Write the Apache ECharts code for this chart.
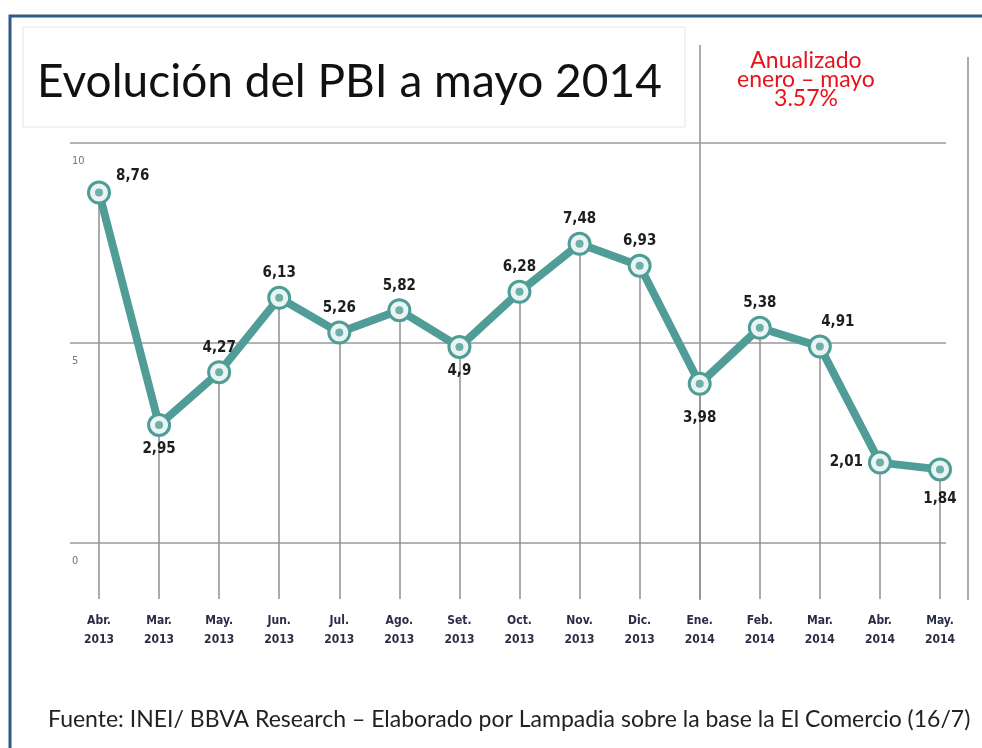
<!DOCTYPE html>
<html>
<head>
<meta charset="utf-8">
<script src="https://cdn.jsdelivr.net/npm/echarts@6/dist/echarts.min.js"></script>
<style>
html,body{margin:0;padding:0;background:#fff;}
#chart{width:982px;height:748px;}
</style>
</head>
<body>
<div id="chart"></div>
<script>
// ---- data ----
const months = ['Abr.','Mar.','May.','Jun.','Jul.','Ago.','Set.','Oct.','Nov.','Dic.','Ene.','Feb.','Mar.','Abr.','May.'];
const years  = ['2013','2013','2013','2013','2013','2013','2013','2013','2013','2013','2014','2014','2014','2014','2014'];
const pbi    = [8.76, 2.95, 4.27, 6.13, 5.26, 5.82, 4.9, 6.28, 7.48, 6.93, 3.98, 5.38, 4.91, 2.01, 1.84];
const yTicks = [0, 5, 10];

// ---- label placement (style) ----
const labelPlace = [
  {position:'right', offset:[0,-16]},
  {position:'bottom', offset:[0,0]},
  {position:'top', offset:[0,0]},
  {position:'top', offset:[0,0]},
  {position:'top', offset:[0,0]},
  {position:'top', offset:[0,0]},
  {position:'bottom', offset:[0,0]},
  {position:'top', offset:[0,0]},
  {position:'top', offset:[0,0]},
  {position:'top', offset:[0,0]},
  {position:'bottom', offset:[0,10]},
  {position:'top', offset:[0,0]},
  {position:'top', offset:[18,0]},
  {position:'left', offset:[0,0]},
  {position:'bottom', offset:[0,5]}
];

const categories = months.map((m,i) => m + '\n' + years[i]);
const teal = '#4f9d96';
const yMinLine = -1.4;
const condensed = "'Liberation Sans Narrow','DejaVu Sans Condensed','DejaVu Sans',sans-serif";

const chart = echarts.init(document.getElementById('chart'), null, {renderer:'canvas'});

const option = {
  backgroundColor: '#ffffff',
  animation: false,
  grid: [
    {left: 99, right: 42, top: 143, bottom: 149},
    {left: 70, right: 36, top: 143, bottom: 205}
  ],
  xAxis: [
    {
      gridIndex: 0, type: 'category', data: categories, boundaryGap: false,
      axisLine: {show:false}, axisTick: {show:false}, splitLine: {show:false},
      axisLabel: {margin: 12, fontSize: 12, fontWeight: 'bold', lineHeight: 19,
                  color: '#2b2d45', fontFamily: condensed, interval: 0}
    },
    {gridIndex: 1, type: 'value', min: 0, max: 1, show: false}
  ],
  yAxis: [
    {gridIndex: 0, type: 'value', min: yMinLine, max: 10, show: false, splitLine:{show:false}},
    {
      gridIndex: 1, type: 'value', min: yTicks[0], max: yTicks[yTicks.length-1], interval: 5,
      axisLine: {show:false}, axisTick: {show:false},
      splitLine: {show:true, lineStyle:{color:'#9a9a9a', width:1.5}},
      axisLabel: {inside: true, verticalAlign: 'top', lineHeight: 36, margin: 2,
                  fontSize: 11, color: '#777', fontFamily: condensed}
    }
  ],
  series: [
    {
      type: 'line', xAxisIndex: 0, yAxisIndex: 0, z: 3,
      data: pbi.map((v,i) => ({value: v, label: labelPlace[i]})),
      symbol: 'circle', symbolSize: 21,
      itemStyle: {color: '#eaf5f3', borderColor: teal, borderWidth: 3},
      lineStyle: {color: teal, width: 8},
      label: {
        show: true, fontSize: 15, fontWeight: 'bold', color: '#1e1e1e',
        fontFamily: condensed, distance: 5,
        formatter: p => String(p.value).replace('.', ',')
      },
      markLine: {
        silent: true, symbol: ['none','none'], z: 1,
        label: {show:false},
        lineStyle: {color:'#8f8f8f', width:1.5, type:'solid'},
        data: pbi.map((v,i) => [{coord:[categories[i], v]}, {coord:[categories[i], yMinLine]}])
      }
    },
    {
      type: 'scatter', xAxisIndex: 0, yAxisIndex: 0, z: 4,
      data: pbi, symbol: 'circle', symbolSize: 8, silent: true,
      itemStyle: {color: teal}
    }
  ],
  graphic: [
    {type:'rect', z:-1, shape:{x:10, y:16, width:1000, height:800},
     style:{fill:'none', stroke:'#2e5a87', lineWidth:3}},
    {type:'rect', z:-1, shape:{x:23, y:27, width:662, height:100},
     style:{fill:'#fff', stroke:'#e6e6e6', lineWidth:1}},
    {type:'line', z:0, shape:{x1:700, y1:45, x2:700, y2:600},
     style:{stroke:'#8f8f8f', lineWidth:1.5}},
    {type:'line', z:0, shape:{x1:968, y1:57, x2:968, y2:600},
     style:{stroke:'#8f8f8f', lineWidth:1.5}},
    {type:'text', left: 37, top: 59,
     style:{text:'Evolución del PBI a mayo 2014', font:"46px Lato, 'Noto Sans', sans-serif", fill:'#111'}},
    {type:'text', x: 806, y: 51,
     style:{text:'Anualizado\nenero – mayo\n3.57%', font:"23px Lato, 'Noto Sans', sans-serif",
            fill:'#e8141c', textAlign:'center', lineHeight:19}},
    {type:'text', left: 48, top: 708,
     style:{text:'Fuente: INEI/ BBVA Research – Elaborado por Lampadia sobre la base la El Comercio (16/7)',
            font:"23px Lato, 'Noto Sans', sans-serif", fill:'#222'}}
  ]
};
chart.setOption(option);
</script>
</body>
</html>
